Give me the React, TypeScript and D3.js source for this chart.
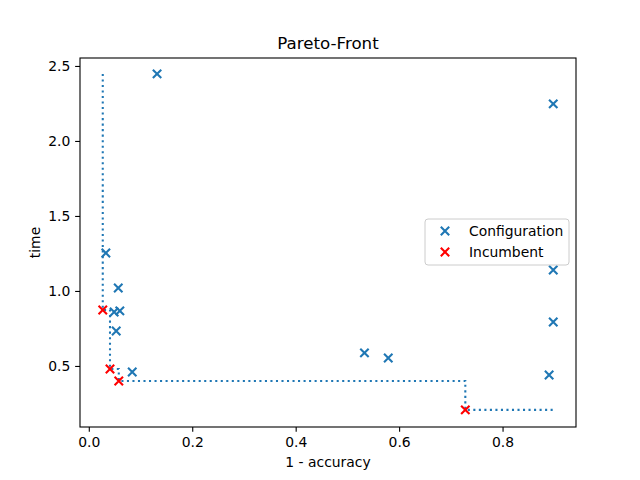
import { useEffect, useRef } from 'react'
import * as d3 from 'd3'

// all evaluated configurations: 1 - accuracy vs time
const configAcc = [0.132, 0.898, 0.033, 0.057, 0.06, 0.049, 0.053, 0.084, 0.533, 0.579, 0.898, 0.898, 0.89]
const configTime = [2.447, 2.247, 1.253, 1.02, 0.867, 0.86, 0.733, 0.46, 0.587, 0.553, 1.14, 0.793, 0.44]

// incumbents on the pareto front
const incAcc = [0.027, 0.041, 0.058, 0.728]
const incTime = [0.873, 0.48, 0.40, 0.207]

const xTicks = [0, 0.2, 0.4, 0.6, 0.8]
const yTicks = [0.5, 1.0, 1.5, 2.0, 2.5]

const BLUE = '#1f77b4'
const RED = '#ff0000'

export default function App() {
  const ref = useRef<SVGSVGElement>(null)

  useEffect(() => {
    const width = 640
    const height = 480
    const margin = { top: 58, right: 64, bottom: 53, left: 80 }
    const w = width - margin.left - margin.right
    const h = height - margin.top - margin.bottom

    const svg = d3.select(ref.current)
    svg.selectAll('*').remove()
    svg.attr('width', width).attr('height', height)
      .style('font-family', 'DejaVu Sans, sans-serif')

    svg.append('rect').attr('width', width).attr('height', height).attr('fill', '#fff')

    const root = svg.append('g').attr('transform', `translate(${margin.left},${margin.top})`)

    const x = d3.scaleLinear().domain([-0.017, 0.942]).range([0, w])
    const y = d3.scaleLinear().domain([0.093, 2.553]).range([h, 0])

    // pareto step line
    const frontier: [number, number][] = [
      [incAcc[0], d3.max(configTime) as number],
      ...incAcc.map((a, i) => [a, incTime[i]] as [number, number]),
      [d3.max(configAcc) as number, incTime[incTime.length - 1]],
    ]
    const line = d3.line<[number, number]>()
      .x(d => x(d[0])).y(d => y(d[1]))
      .curve(d3.curveStepAfter)
    root.append('path')
      .attr('d', line(frontier))
      .attr('fill', 'none')
      .attr('stroke', BLUE)
      .attr('stroke-width', 2.08)
      .attr('stroke-dasharray', '2.08,3.44')

    const cross = (g: d3.Selection<SVGGElement, unknown, null, undefined>, cx: number, cy: number, color: string) => {
      const r = 4.2
      g.append('path')
        .attr('d', `M${cx - r},${cy - r}L${cx + r},${cy + r}M${cx - r},${cy + r}L${cx + r},${cy - r}`)
        .attr('stroke', color)
        .attr('stroke-width', 2.08)
        .attr('fill', 'none')
    }

    const pts = root.append('g')
    configAcc.forEach((a, i) => cross(pts, x(a), y(configTime[i]), BLUE))
    incAcc.forEach((a, i) => cross(pts, x(a), y(incTime[i]), RED))

    // axes
    const xAxis = root.append('g')
      .attr('transform', `translate(0,${h})`)
      .call(d3.axisBottom(x).tickValues(xTicks).tickFormat(d3.format('.1f')).tickSize(4.86).tickPadding(4.86))
    const yAxis = root.append('g')
      .call(d3.axisLeft(y).tickValues(yTicks).tickFormat(d3.format('.1f')).tickSize(4.86).tickPadding(4.86))
    for (const ax of [xAxis, yAxis]) {
      ax.select('.domain').remove()
      ax.selectAll('line').attr('stroke', '#000').attr('stroke-width', 1.1)
      ax.selectAll('text').attr('fill', '#000').style('font-size', '13.9px').style('font-family', 'DejaVu Sans, sans-serif')
    }

    root.append('rect')
      .attr('width', w).attr('height', h)
      .attr('fill', 'none').attr('stroke', '#000').attr('stroke-width', 1.1)

    // labels
    svg.append('text').attr('x', margin.left + w / 2).attr('y', 49)
      .attr('text-anchor', 'middle').style('font-size', '16.67px').text('Pareto-Front')
    svg.append('text').attr('x', margin.left + w / 2).attr('y', 467)
      .attr('text-anchor', 'middle').style('font-size', '13.9px').text('1 - accuracy')
    svg.append('text').attr('transform', `translate(40,${margin.top + h / 2}) rotate(-90)`)
      .attr('text-anchor', 'middle').style('font-size', '13.9px').text('time')

    // legend
    const legend = svg.append('g').attr('transform', 'translate(425,219)')
    legend.append('rect').attr('width', 144).attr('height', 46).attr('rx', 3)
      .attr('fill', '#fff').attr('fill-opacity', 0.8).attr('stroke', '#ccc')
    const keys = [['Configuration', BLUE], ['Incumbent', RED]]
    keys.forEach(([label, color], i) => {
      cross(legend as any, 20, 12 + i * 21, color)
      legend.append('text').attr('x', 44).attr('y', 17 + i * 21)
        .style('font-size', '13.9px').text(label)
    })
  }, [])

  return <svg ref={ref} style={{ display: 'block', position: 'absolute', left: 0, top: 0 }} />
}
